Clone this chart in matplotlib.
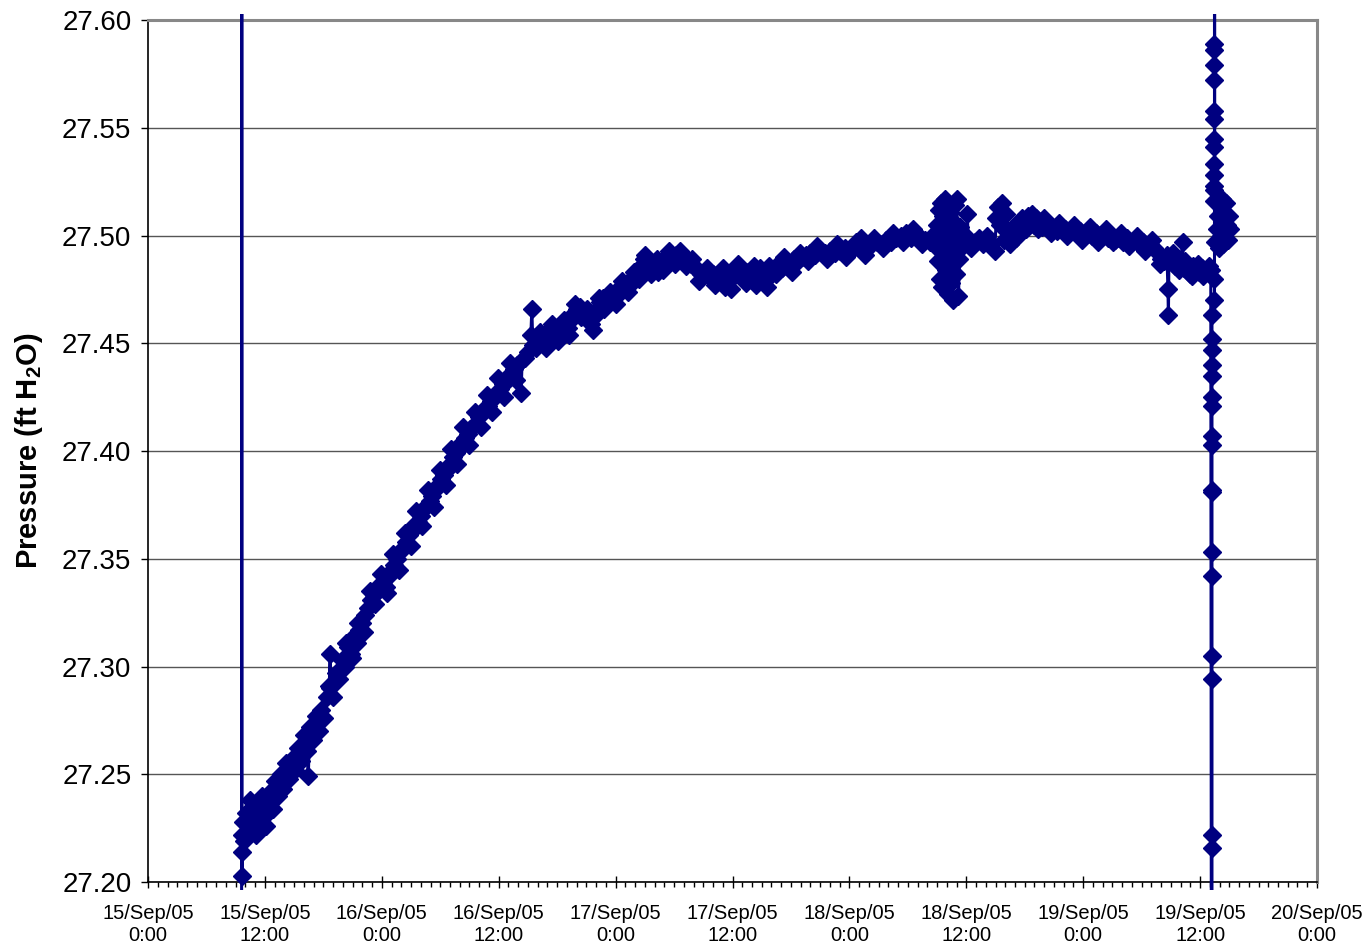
import numpy as np
import matplotlib
matplotlib.use("Agg")
import matplotlib.pyplot as plt
from matplotlib.ticker import MultipleLocator, FuncFormatter
from matplotlib.transforms import Bbox, TransformedBbox

plt.rcParams['font.family'] = ['Liberation Sans', 'DejaVu Sans']
plt.rcParams['mathtext.fontset'] = 'custom'
plt.rcParams['mathtext.rm'] = 'Liberation Sans:bold'

NAVY = '#000080'

# hours after 15/Sep/05 0:00, pressure in ft H2O
# logger switched on: line comes in from off-scale
start_h = [9.60, 9.62, 9.64, 9.65, 9.66, 9.70]
start_p = [26.80, 28.40, 27.203, 27.214, 27.222, 27.228]

ramp_h = [9.9, 10.1, 10.3, 10.5, 10.7, 10.9, 11.1, 11.3, 11.5, 11.7, 11.9, 12.1, 12.3, 12.5,
          12.8, 13.0, 13.3, 13.6, 13.9, 14.2, 14.5, 14.8, 15.1, 15.4, 15.7, 16.0, 16.3, 16.45,
          16.6, 16.9, 17.2, 17.5, 17.8, 18.1, 18.4, 18.6, 18.7, 18.72, 19.0, 19.3, 19.6, 19.9,
          20.2, 20.5, 20.8, 21.1, 21.4, 21.7, 22.0, 22.3, 22.6, 22.9, 23.2, 23.5, 23.8, 24.1,
          24.4, 24.7, 25.0, 25.3, 25.6, 25.9, 26.2, 26.5, 26.8, 27.1, 27.4, 27.7, 28.0, 28.3,
          28.6, 28.9, 29.2, 29.5, 29.8, 30.1, 30.4, 30.7, 31.0, 31.3, 31.6, 31.9, 32.2, 32.5,
          32.8, 33.1, 33.4, 33.7, 34.0, 34.3, 34.6, 34.9, 35.2, 35.5, 35.8, 36.1, 36.4, 36.7,
          37.0, 37.3, 37.6, 37.9, 38.3, 38.4, 38.7, 39.0, 39.3, 39.4, 39.5, 39.8]
ramp_p = [27.219, 27.232, 27.224, 27.238, 27.226, 27.232, 27.222, 27.236, 27.228, 27.240,
          27.230, 27.226, 27.236, 27.242, 27.234, 27.247, 27.240, 27.250, 27.243, 27.255,
          27.248, 27.257, 27.252, 27.262, 27.256, 27.268, 27.261, 27.249, 27.272, 27.266,
          27.277, 27.270, 27.280, 27.276, 27.286, 27.291, 27.306, 27.290, 27.286, 27.297,
          27.294, 27.303, 27.300, 27.309, 27.306, 27.314, 27.311, 27.317, 27.320, 27.324,
          27.327, 27.331, 27.333, 27.337, 27.336, 27.339, 27.337, 27.342, 27.345, 27.347,
          27.350, 27.353, 27.355, 27.358, 27.361, 27.363, 27.366, 27.367, 27.370, 27.373,
          27.375, 27.377, 27.379, 27.382, 27.384, 27.387, 27.389, 27.391, 27.394, 27.397,
          27.399, 27.401, 27.404, 27.406, 27.408, 27.410, 27.411, 27.413, 27.416, 27.418,
          27.420, 27.421, 27.423, 27.425, 27.427, 27.429, 27.431, 27.432, 27.434, 27.436,
          27.438, 27.440, 27.427, 27.442, 27.443, 27.446, 27.454, 27.466, 27.449, 27.448]

# in-between readings that give the trace its ragged width
ramp2_h = [20.35, 20.95, 21.55, 22.15, 22.75, 23.35, 23.95, 24.55, 25.15, 25.75, 26.35, 26.95,
           27.55, 28.15, 28.75, 29.35, 29.95, 30.55, 31.15, 31.75, 32.35, 32.95, 33.55, 34.15,
           34.75, 35.35, 35.95, 36.55, 37.15, 37.75]
ramp2_p = [27.311, 27.304, 27.320, 27.316, 27.335, 27.329, 27.343, 27.334, 27.352, 27.345,
           27.362, 27.356, 27.372, 27.365, 27.382, 27.374, 27.391, 27.384, 27.401, 27.394,
           27.411, 27.403, 27.418, 27.411, 27.426, 27.418, 27.434, 27.425, 27.441, 27.433]

level_h = [40.1, 40.4, 40.7, 41.0, 41.3, 41.6, 41.9, 42.2, 42.5, 42.8, 43.1, 43.4, 43.7, 44.0,
           44.3, 44.6, 44.9, 45.2, 45.5, 45.8, 46.1, 46.4, 46.7, 47.0, 47.3, 47.6, 47.9, 48.2,
           48.5, 48.8, 49.1, 49.4, 49.7, 50.0, 50.3, 50.6, 50.9, 51.2, 51.5, 51.8, 52.1, 52.4,
           52.7, 53.0, 53.3, 53.6, 53.9, 54.2, 54.5, 54.8, 55.1, 55.4, 55.7, 56.0, 56.4, 56.8,
           57.2, 57.6, 58.0, 58.4, 58.8, 59.2, 59.6, 60.0, 60.4, 60.8, 61.2, 61.6, 62.0, 62.4,
           62.8, 63.2, 63.5, 63.9, 64.3, 64.7, 65.1, 65.5, 65.9, 66.3, 66.7, 67.1, 67.5, 68.0,
           68.5, 69.0, 69.5, 70.0, 70.5, 71.0, 71.5, 72.0, 72.5, 73.0, 73.2, 73.8, 74.3, 74.8,
           75.3, 75.8, 76.3, 76.8, 77.3, 77.8, 78.3, 78.8, 79.3, 79.8, 80.3, 80.8]
level_p = [27.450, 27.452, 27.451, 27.455, 27.453, 27.456, 27.455, 27.457, 27.456, 27.458,
           27.457, 27.461, 27.464, 27.466, 27.467, 27.465, 27.463, 27.461, 27.459, 27.462,
           27.466, 27.469, 27.471, 27.468, 27.470, 27.472, 27.471, 27.474, 27.476, 27.475,
           27.477, 27.479, 27.478, 27.480, 27.483, 27.486, 27.489, 27.485, 27.487, 27.484,
           27.486, 27.483, 27.487, 27.489, 27.490, 27.489, 27.490, 27.491, 27.490, 27.489,
           27.490, 27.488, 27.487, 27.486, 27.484, 27.482, 27.483, 27.481, 27.482, 27.480,
           27.482, 27.476, 27.479, 27.484, 27.482, 27.484, 27.481, 27.483, 27.480, 27.477,
           27.485, 27.482, 27.476, 27.481, 27.484, 27.487, 27.485, 27.487, 27.486, 27.489,
           27.488, 27.490, 27.491, 27.492, 27.491, 27.493, 27.492, 27.493, 27.492, 27.493,
           27.494, 27.493, 27.494, 27.495, 27.499, 27.494, 27.496, 27.497, 27.496, 27.498,
           27.497, 27.499, 27.500, 27.501, 27.499, 27.500, 27.499, 27.498, 27.497, 27.495]

level2_h = [40.25, 40.85, 41.45, 42.05, 42.65, 43.25, 43.85, 44.45, 45.05, 45.65, 46.25, 46.85,
            47.45, 48.05, 48.65, 49.25, 49.85, 50.45, 51.05, 51.65, 52.25, 52.85, 53.45, 54.05,
            54.65, 55.25, 55.85, 56.6, 57.4, 58.2, 59.0, 59.8, 60.6, 61.4, 62.2, 63.0, 63.7,
            64.5, 65.3, 66.1, 66.9, 67.8, 68.7, 69.7, 70.7, 71.7, 72.7, 73.6, 74.5, 75.5, 76.5,
            77.5, 78.5, 79.5, 80.5]
level2_p = [27.455, 27.448, 27.459, 27.451, 27.461, 27.454, 27.468, 27.462, 27.466, 27.456,
            27.471, 27.466, 27.474, 27.468, 27.479, 27.474, 27.483, 27.480, 27.491, 27.482,
            27.489, 27.484, 27.493, 27.487, 27.493, 27.486, 27.489, 27.479, 27.485, 27.477,
            27.485, 27.475, 27.487, 27.478, 27.486, 27.479, 27.486, 27.482, 27.490, 27.483,
            27.492, 27.488, 27.495, 27.489, 27.496, 27.490, 27.497, 27.491, 27.499, 27.494,
            27.501, 27.497, 27.503, 27.496, 27.500]

# noisy stretch around 18/Sep 09:00
burst_h = [81.0, 81.1, 81.2, 81.3, 81.4, 81.5, 81.6, 81.7, 81.8, 81.9, 82.0, 82.1, 82.2, 82.3,
           82.4, 82.5, 82.6, 82.7, 82.8, 82.9, 83.0, 83.1, 83.2, 83.3, 83.4, 83.5, 84.0, 84.1,
           84.2, 84.5, 84.9, 85.3, 85.7, 86.1, 86.5, 86.9, 87.1, 87.3, 87.5, 87.7, 87.9, 88.1,
           88.3, 88.5, 88.8, 89.1, 89.4, 89.7]
burst_p = [27.505, 27.488, 27.512, 27.480, 27.515, 27.476, 27.509, 27.492, 27.517, 27.484,
           27.503, 27.473, 27.498, 27.511, 27.478, 27.507, 27.470, 27.495, 27.514, 27.482,
           27.517, 27.500, 27.472, 27.489, 27.504, 27.494, 27.497, 27.510, 27.499, 27.494,
           27.497, 27.499, 27.496, 27.500, 27.496, 27.493, 27.508, 27.513, 27.505, 27.515,
           27.498, 27.510, 27.502, 27.496, 27.504, 27.499, 27.503, 27.508]

late_h = [90.0, 90.3, 90.6, 90.9, 91.2, 91.5, 91.8, 92.1, 92.5, 92.9, 93.3, 93.7, 94.1, 94.5,
          94.9, 95.3, 95.7, 96.1, 96.5, 96.9, 97.3, 97.7, 98.1, 98.5, 98.9, 99.3, 99.7, 100.1,
          100.5, 100.9, 101.3, 101.7, 102.1, 102.5, 102.9, 103.3, 103.7, 104.0, 104.3, 104.6,
          104.7, 104.75, 104.8, 105.1, 105.4, 105.7, 106.0, 106.2, 106.3, 106.7, 107.0, 107.3,
          107.6, 107.9, 108.2, 108.5, 108.8, 109.1]
late_p = [27.506, 27.509, 27.507, 27.505, 27.508, 27.506, 27.504, 27.505, 27.503, 27.504,
          27.502, 27.504, 27.503, 27.501, 27.503, 27.501, 27.502, 27.500, 27.502, 27.500,
          27.501, 27.499, 27.501, 27.499, 27.500, 27.498, 27.499, 27.497, 27.499, 27.497,
          27.498, 27.496, 27.497, 27.495, 27.496, 27.494, 27.492, 27.489, 27.488, 27.491,
          27.475, 27.463, 27.488, 27.490, 27.486, 27.489, 27.487, 27.497, 27.485, 27.484,
          27.482, 27.486, 27.484, 27.483, 27.485, 27.484, 27.483, 27.484]

late2_h = [90.15, 90.75, 91.35, 91.95, 92.7, 93.5, 94.3, 95.1, 95.9, 96.7, 97.5, 98.3, 99.1,
           99.9, 100.7, 101.5, 102.3, 103.1, 103.9, 105.25, 105.85, 106.5, 107.15, 107.75,
           108.35, 108.95]
late2_p = [27.503, 27.510, 27.503, 27.508, 27.501, 27.506, 27.500, 27.505, 27.498, 27.504,
           27.497, 27.503, 27.497, 27.501, 27.495, 27.500, 27.493, 27.498, 27.487, 27.492,
           27.484, 27.488, 27.481, 27.487, 27.481, 27.486]

# logger pulled out: runs off-scale both ways, then a last cluster
end_h = [109.22, 109.22, 109.22, 109.22, 109.22, 109.22, 109.22, 109.22, 109.22, 109.22,
         109.22, 109.22, 109.22, 109.22, 109.22, 109.22, 109.22, 109.22, 109.48, 109.48,
         109.48, 109.48, 109.48, 109.48, 109.48, 109.48, 109.48, 109.48, 109.48, 109.48,
         109.48, 109.48, 109.48, 109.48]
end_p = [26.80, 27.216, 27.222, 27.294, 27.305, 27.342, 27.353, 27.381, 27.382, 27.403,
         27.407, 27.421, 27.425, 27.435, 27.440, 27.447, 27.452, 27.463, 27.470, 27.480,
         27.516, 27.521, 27.523, 27.528, 27.533, 27.541, 27.545, 27.554, 27.558, 27.572,
         27.579, 27.586, 27.589, 28.40]

tail_h = [109.5, 109.6, 109.7, 109.8, 109.9, 110.0, 110.1, 110.2, 110.3, 110.4, 110.5, 110.6,
          110.7, 110.8, 110.9, 111.0, 111.1]
tail_p = [27.497, 27.516, 27.503, 27.509, 27.494, 27.514, 27.500, 27.507, 27.517, 27.496,
          27.511, 27.502, 27.515, 27.505, 27.498, 27.509, 27.503]

hours = np.array(start_h + ramp_h + ramp2_h + level_h + level2_h + burst_h
                 + late_h + late2_h + end_h + tail_h)
pressure = np.array(start_p + ramp_p + ramp2_p + level_p + level2_p + burst_p
                    + late_p + late2_p + end_p + tail_p)
order = np.argsort(hours, kind='stable')
hours, pressure = hours[order], pressure[order]


def time_label(h, pos):
    h = int(round(h))
    return f"{15 + h // 24}/Sep/05\n{h % 24}:00"


fig = plt.figure(figsize=(13.67, 9.48), dpi=100)
ax = fig.add_axes([0.1083, 0.0696, 0.8551, 0.9093])

line, = ax.plot(hours, pressure, color=NAVY, lw=2.2, marker='D', ms=9.5,
                mfc=NAVY, mec=NAVY, zorder=3)
ax.set_xlim(0, 120)
ax.set_ylim(27.20, 27.60)

# Excel lets the series poke a few pixels past the plot area
clip = TransformedBbox(Bbox.from_extents(0, -0.009, 1, 1.007), ax.transAxes)
line.set_clip_box(clip)
line.set_clip_path(None)

ax.xaxis.set_major_locator(MultipleLocator(12))
ax.xaxis.set_minor_locator(MultipleLocator(1))
ax.xaxis.set_major_formatter(FuncFormatter(time_label))
ax.yaxis.set_major_locator(MultipleLocator(0.05))
ax.yaxis.set_major_formatter(FuncFormatter(lambda v, p: f"{v:.2f}"))

ax.tick_params(axis='x', which='major', direction='inout', length=9, width=1,
               labelsize=14.5, pad=11)
ax.tick_params(axis='x', which='minor', direction='out', length=3.5, width=1)
ax.tick_params(axis='y', which='major', direction='out', length=5, width=1,
               labelsize=20, pad=7)
for lab in ax.get_xticklabels():
    lab.set_linespacing(1.2)

ax.grid(axis='y', color='#555555', lw=1)
ax.set_axisbelow(True)
for s in ['top', 'right']:
    ax.spines[s].set_color('#888888')
    ax.spines[s].set_linewidth(2.2)
for s in ['left', 'bottom']:
    ax.spines[s].set_color('black')
    ax.spines[s].set_linewidth(1.2)

ax.set_ylabel(r'Pressure (ft H$_\mathrm{2}$O)', fontsize=21, fontweight='bold', labelpad=12)

fig.savefig('out.png', dpi=100)
